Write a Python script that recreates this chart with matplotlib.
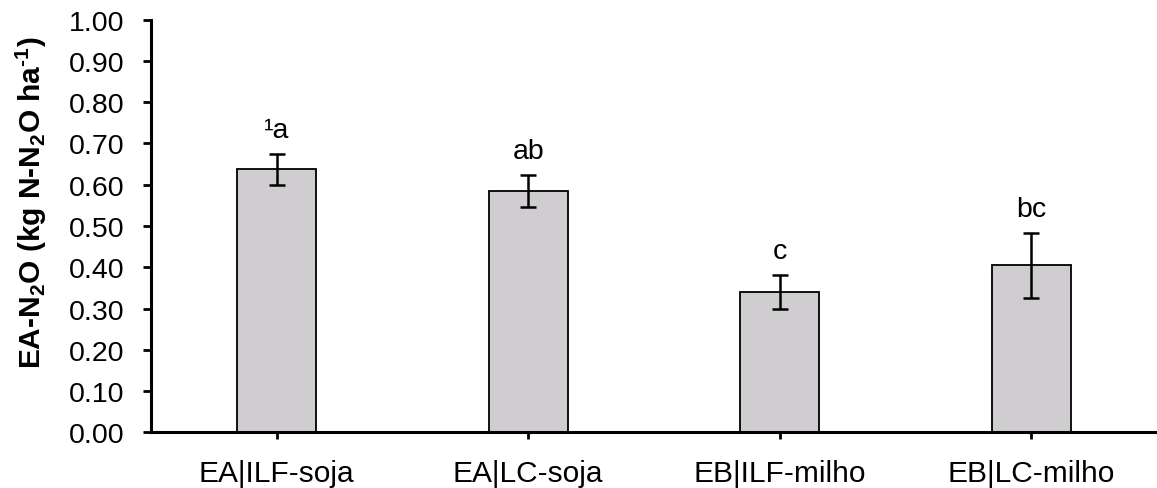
import matplotlib
matplotlib.use("Agg")
import matplotlib.pyplot as plt
import numpy as np

plt.rcParams['font.family'] = ['Liberation Sans', 'DejaVu Sans']
plt.rcParams['mathtext.fontset'] = 'custom'
plt.rcParams['mathtext.rm'] = 'Liberation Sans'
plt.rcParams['mathtext.bf'] = 'Liberation Sans:bold'
plt.rcParams['mathtext.it'] = 'Liberation Sans:italic'
plt.rcParams['mathtext.default'] = 'bf'

categories = ['EA|ILF-soja', 'EA|LC-soja', 'EB|ILF-milho', 'EB|LC-milho']
values = [0.637, 0.584, 0.341, 0.405]
errors = [0.038, 0.039, 0.041, 0.079]
letters = ['¹a', 'ab', 'c', 'bc']
yticks = [0.0, 0.1, 0.2, 0.3, 0.4, 0.5, 0.6, 0.7, 0.8, 0.9, 1.0]

fig = plt.figure(figsize=(11.57, 4.89), dpi=100)
ax = fig.add_axes([0.1305, 0.1135, 0.8695, 0.8445])

x = np.arange(len(categories))
ax.bar(x, values, width=0.314, color='#cfcdcf', edgecolor='black', linewidth=1.3, zorder=2)
ax.errorbar(x, values, yerr=errors, fmt='none', ecolor='black', elinewidth=1.8,
            capsize=6, capthick=1.8, zorder=3)

for xi, v, e, t in zip(x, values, errors, letters):
    ax.annotate(t, (xi, v + e), xytext=(0, 8), textcoords='offset points',
                ha='center', va='bottom', fontsize=20.5)

ax.set_xlim(-0.5, 3.5)
ax.set_ylim(0, 1.0)
ax.set_yticks(yticks)
ax.set_yticklabels([f'{t:.2f}' for t in yticks], fontsize=20.5)
ax.set_xticks(x)
ax.set_xticklabels(categories, fontsize=21.5)
ax.tick_params(axis='y', direction='out', length=6, width=2, pad=13)
ax.tick_params(axis='x', direction='out', length=5, width=2, pad=14)

for s in ['top', 'right']:
    ax.spines[s].set_visible(False)
for s in ['left', 'bottom']:
    ax.spines[s].set_linewidth(2.2)

ax.set_ylabel('EA-N$_2$O (kg N-N$_2$O ha$^{\u20101}$)', fontsize=21.5, fontweight='bold')
ax.yaxis.set_label_coords(-0.101, 0.56)

fig.savefig('out.png', dpi=100)
